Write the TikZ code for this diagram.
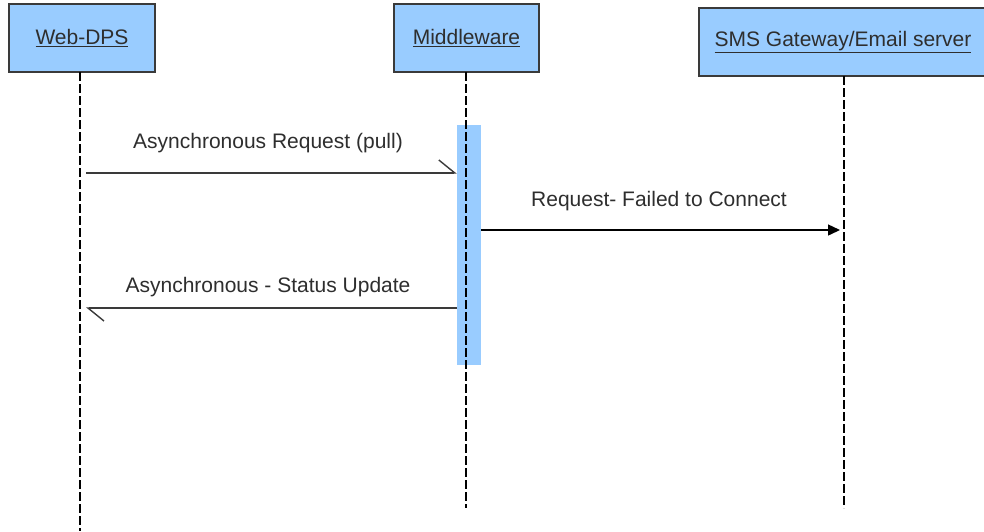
\documentclass[tikz,border=0pt]{standalone}
\usepackage{fontspec}
\setmainfont{Liberation Sans}
\usetikzlibrary{arrows.meta}
\definecolor{objfill}{HTML}{99CCFF}
\definecolor{objline}{HTML}{3A3A3A}
\definecolor{txt}{HTML}{2E2E2E}
\tikzset{
  obj/.style={draw=objline, line width=2pt, fill=objfill, text=txt,
    minimum height=68pt, inner sep=0pt, font=\fontsize{21}{25}\selectfont},
  lifeline/.style={black, line width=2.4pt, dash pattern=on 9pt off 3pt},
  actbar/.style={fill=objfill, draw=none, inner sep=0pt},
  asyncmsg/.style={draw=objline, line width=1.4pt,
    -{Straight Barb[left, length=16pt, width=26pt, line width=1.4pt]}},
  syncmsg/.style={draw=black, line width=1.4pt,
    -{Triangle[length=12pt, width=11pt]}},
  msglabel/.style={text=txt, inner sep=0pt, font=\fontsize{21}{25}\selectfont}
}
\begin{document}
\begin{tikzpicture}[x=1pt, y=-1pt]
  \useasboundingbox (0,0) rectangle (984,531);
  \fill[white] (0,0) rectangle (984,531);

  % participants
  \node[obj, minimum width=146pt] (web) at (82,38) {\underline{Web-DPS}};
  \node[obj, minimum width=145pt] (mid) at (466.5,38) {\underline{Middleware}};
  \node[obj, minimum width=288pt] (sms) at (843,42) {\underline{SMS Gateway/Email server}};

  % lifeline ends
  \coordinate (webtop) at (80,72);
  \coordinate (webbot) at (80,531);
  \coordinate (midtop) at (466,72);
  \coordinate (midbot) at (466,508);
  \coordinate (smstop) at (844,76);
  \coordinate (smsbot) at (844,508);

  % activation of the middleware
  \node[actbar, minimum width=24pt, minimum height=240pt] (act) at (469,245) {};

  \draw[lifeline] (webtop) -- (webbot);
  \draw[lifeline] (midtop) -- (midbot);
  \draw[lifeline] (smstop) -- (smsbot);

  % messages
  \coordinate (m1s) at (86,173);
  \coordinate (m1e) at (act.west |- m1s);
  \draw[asyncmsg] (m1s) -- (m1e);
  \node[msglabel] (l1) at (268,143) {Asynchronous Request (pull)};

  \coordinate (m2s) at (act.east |- 0,230);
  \coordinate (m2e) at (840,230);
  \draw[syncmsg] (m2s) -- (m2e);
  \node[msglabel] (l2) at (659,201) {Request- Failed to Connect};

  \coordinate (m3s) at (act.west |- 0,308);
  \coordinate (m3e) at (86,308);
  \draw[asyncmsg] (m3s) -- (m3e);
  \node[msglabel] (l3) at (268,287) {Asynchronous - Status Update};
\end{tikzpicture}
\end{document}
